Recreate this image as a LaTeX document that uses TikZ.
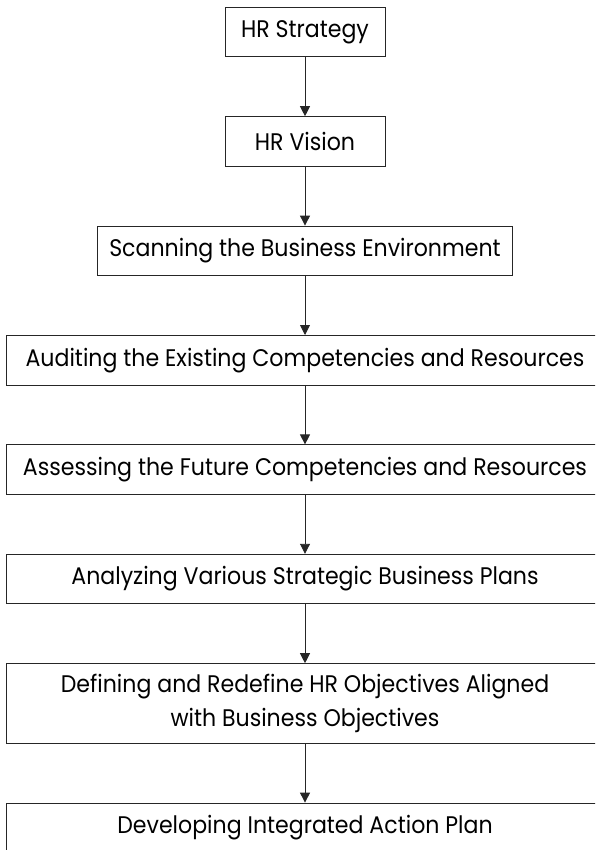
\documentclass[tikz,border=0pt]{standalone}
\usepackage{fontspec}
\setmainfont{Poppins}[FakeStretch=0.92]
\usetikzlibrary{arrows.meta,positioning}

\begin{document}
\begin{tikzpicture}[
    x=1pt,y=1pt,
    node distance=59pt,
    hrbox/.style={draw=black!85,line width=0.9pt,minimum height=49.5pt,
      align=center,inner sep=0pt,font=\fontsize{24}{34}\selectfont},
    narrow/.style={hrbox,minimum width=160pt},
    wide/.style={hrbox,minimum width=598pt},
    flow/.style={-{Triangle[length=10pt,width=10pt]},line width=0.9pt,draw=black!85}
  ]
    \useasboundingbox (0,0) rectangle (595,-850);
    \clip (0,0) rectangle (595,-850);
    \node[narrow] (strategy) at (305,-32) {HR Strategy};
    \node[narrow,below=of strategy] (vision) {HR Vision};
    \node[hrbox,minimum width=415pt,below=of vision] (scanning) {Scanning the Business Environment};
    \node[wide,below=of scanning] (auditing) {Auditing the Existing Competencies and Resources};
    \node[wide,below=of auditing] (assessing) {Assessing the Future Competencies and Resources};
    \node[wide,below=of assessing] (analyzing) {Analyzing Various Strategic Business Plans};
    \node[wide,minimum height=79.5pt,below=of analyzing] (defining)
      {Defining and Redefine HR Objectives Aligned\\with Business Objectives};
    \node[wide,below=of defining] (developing) {Developing Integrated Action Plan};
    \draw[flow] (strategy) -- (vision);
    \draw[flow] (vision) -- (scanning);
    \draw[flow] (scanning) -- (auditing);
    \draw[flow] (auditing) -- (assessing);
    \draw[flow] (assessing) -- (analyzing);
    \draw[flow] (analyzing) -- (defining);
    \draw[flow] (defining) -- (developing);
\end{tikzpicture}
\end{document}
